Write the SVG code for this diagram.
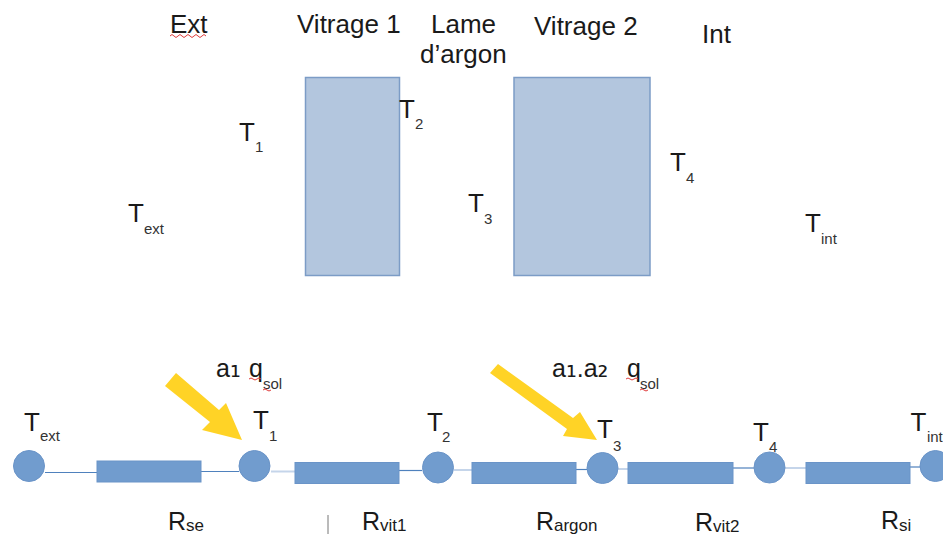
<svg xmlns="http://www.w3.org/2000/svg" width="943" height="536" viewBox="0 0 943 536">
<style>
text{font-family:"Liberation Sans",Arial,sans-serif;fill:#1a1a1a}
.h{font-size:26px}
.t{font-size:26px}
.s{font-size:15px;fill:#333}
.r{font-size:25px}
.rs{font-size:17px}
.a{font-size:25px}
.u{font-family:"DejaVu Sans",sans-serif;font-size:27px}
.pane{fill:#b3c6de;stroke:#7c9cc6;stroke-width:1.500}
.res{fill:#719cce;stroke:#6a94c8;stroke-width:1}
.nod{fill:#719cce;stroke:#6a94c8;stroke-width:1}
.w{fill:none;stroke:#4f81bd;stroke-width:1.200}
.wl{fill:none;stroke:#c5d5ea;stroke-width:2}
.arr{fill:#ffd326}
.sq{fill:none;stroke:#e03c3c;stroke-width:1}
</style>
<g id="labels-top">
<text class="h" x="170" y="33">Ext</text>
<path class="sq" d="M170 36q2-3 4 0t4 0 4 0 4 0 4 0 4 0 4 0 4 0 4 0"/>
<text class="h" x="297" y="33">Vitrage 1</text>
<text class="h" x="431" y="33">Lame</text>
<text class="h" x="420" y="63">d’argon</text>
<text class="h" x="534" y="35">Vitrage 2</text>
<text class="h" x="702" y="43">Int</text>
</g>
<g id="vitrage1"><rect class="pane" x="305.500" y="77.500" width="94" height="198"/></g>
<g id="vitrage2"><rect class="pane" x="514" y="77.500" width="136" height="198"/></g>
<g id="temps-top">
<text class="t" x="239" y="141">T</text><text class="s" x="255" y="152">1</text>
<text class="t" x="399" y="118">T</text><text class="s" x="415" y="129">2</text>
<text class="t" x="468" y="212">T</text><text class="s" x="484" y="224">3</text>
<text class="t" x="670" y="171">T</text><text class="s" x="686" y="183">4</text>
<text class="t" x="128" y="222">T</text><text class="s" x="144" y="234">ext</text>
<text class="t" x="805" y="232">T</text><text class="s" x="821" y="244">int</text>
</g>
<g id="connectors">
<path class="w" d="M45 472.500H97"/>
<path class="w" d="M201 471.500H239"/>
<path class="wl" d="M271 471.500H295"/>
<path class="w" d="M399 470.500H422"/>
<path class="wl" d="M454 470H472"/>
<path class="w" d="M576 469.500H587"/>
<path class="wl" d="M618 469H628"/>
<path class="w" d="M733 468H754"/>
<path class="wl" d="M785 468H806"/>
<path class="w" d="M910 467H921"/>
</g>
<g id="r-se"><rect class="res" x="97" y="461" width="104" height="21"/><text class="r" x="168" y="530">R</text><text class="rs" x="186" y="530.500">se</text></g>
<g id="r-vit1"><rect class="res" x="295" y="462.500" width="104" height="21"/><text class="r" x="362" y="530">R</text><text class="rs" x="380" y="530.500">vit1</text></g>
<g id="r-argon"><rect class="res" x="472" y="462.500" width="104" height="21"/><text class="r" x="536" y="530">R</text><text class="rs" x="554" y="531">argon</text></g>
<g id="r-vit2"><rect class="res" x="628" y="462.500" width="105" height="21"/><text class="r" x="695" y="530.500">R</text><text class="rs" x="713" y="532">vit2</text></g>
<g id="r-si"><rect class="res" x="806" y="462.500" width="104" height="21"/><text class="r" x="881" y="529">R</text><text class="rs" x="899" y="530.500">si</text></g>
<path d="M328 515V534" stroke="#777" stroke-width="1" fill="none"/>
<g id="n-text"><circle class="nod" cx="29" cy="466" r="15.500"/><text class="t" x="24" y="431">T</text><text class="s" x="40" y="441">ext</text></g>
<g id="n-t1"><circle class="nod" cx="254.500" cy="466" r="15.500"/><text class="t" x="253" y="429">T</text><text class="s" x="269" y="441">1</text></g>
<g id="n-t2"><circle class="nod" cx="438" cy="467.500" r="15.500"/><text class="t" x="427" y="431">T</text><text class="s" x="442" y="442">2</text></g>
<g id="n-t3"><circle class="nod" cx="602.500" cy="468" r="15.500"/><text class="t" x="597" y="438">T</text><text class="s" x="613" y="451">3</text></g>
<g id="n-t4"><circle class="nod" cx="769.500" cy="467.500" r="15.500"/><text class="t" x="753" y="441">T</text><text class="s" x="769" y="452">4</text></g>
<g id="n-tint"><circle class="nod" cx="935.500" cy="466" r="15.500"/><text class="t" x="910.500" y="431">T</text><text class="s" x="926.900" y="442">int</text></g>
<g id="flux1">
<polygon class="arr" points="176,373 219,410 226,403 242,440 202,430 210,422 165,386"/>
<text class="a" x="216" y="377">a<tspan class="u">₁</tspan></text><text class="t" x="249" y="377" style="font-size:25px">q</text><text class="s" x="263" y="389">sol</text>
<path class="sq" d="M249 379q2-2 4 0t4 0 4 0"/><path class="sq" d="M263 390q2-2 4 0t4 0"/>
</g>
<g id="flux2">
<polygon class="arr" points="498,364 573,418 580,412 597,440 563,436 567,429 490,373"/>
<text class="a" x="552" y="377">a<tspan class="u">₁</tspan>.a<tspan class="u">₂</tspan></text><text class="t" x="627" y="377" style="font-size:25px">q</text><text class="s" x="640" y="389">sol</text>
<path class="sq" d="M626 379q2-2 4 0t4 0 4 0"/><path class="sq" d="M640 390q2-2 4 0t4 0"/>
</g>
</svg>
